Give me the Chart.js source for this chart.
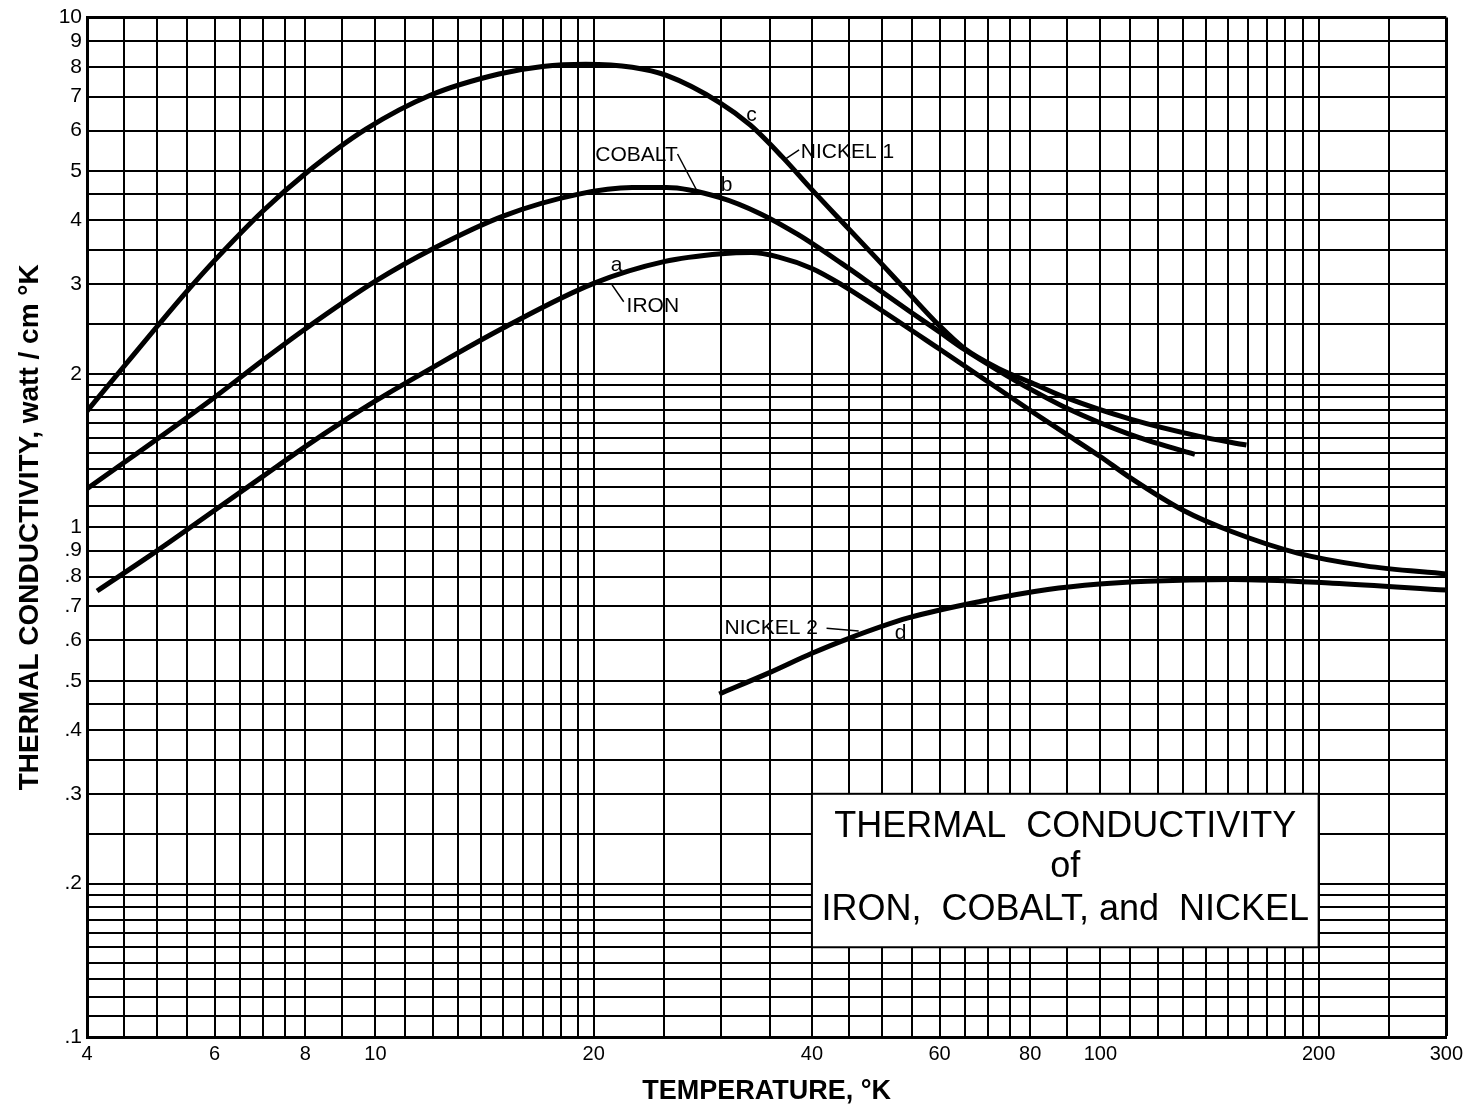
<!DOCTYPE html>
<html>
<head>
<meta charset="utf-8">
<script src="https://cdn.jsdelivr.net/npm/chart.js@4.4.1/dist/chart.umd.min.js"></script>
<style>
html,body{margin:0;padding:0;background:#fff;}
#wrap{position:relative;width:1468px;height:1117px;}
</style>
</head>
<body>
<div id="wrap"><canvas id="chart"></canvas></div>
<script>
// ---- data (temperature in K, conductivity in watt/cm K) ----
const ironT    = [4.13, 5, 6, 7, 8, 9, 10, 12, 15, 20, 25, 30, 33, 36, 40, 44, 49.4, 59.9, 72.3, 80.8, 89.3, 99.7, 110, 130, 152, 187, 232, 300];
const ironK    = [0.75, 0.90, 1.08, 1.26, 1.44, 1.61, 1.77, 2.06, 2.46, 3.01, 3.32, 3.44, 3.46, 3.39, 3.22, 2.99, 2.69, 2.24, 1.87, 1.68, 1.53, 1.38, 1.25, 1.08, 0.98, 0.89, 0.84, 0.81];

const cobaltT  = [4, 4.5, 5, 6, 7, 8, 10, 12, 15, 19, 22.6, 25.2, 29.8, 34, 38.3, 44, 49.4, 54.4, 59.9, 65, 72.3, 80.4, 89.3, 110, 135];
const cobaltK  = [1.19, 1.34, 1.49, 1.80, 2.13, 2.45, 3.04, 3.52, 4.08, 4.5, 4.64, 4.64, 4.44, 4.12, 3.75, 3.29, 2.93, 2.66, 2.42, 2.23, 2.03, 1.86, 1.72, 1.52, 1.39];

const nickel1T = [4, 4.5, 5, 5.5, 6, 7, 8, 9.7, 11.9, 14.8, 17, 19.5, 22.6, 25.2, 29.8, 32.9, 36.4, 39.7, 44.5, 49.4, 54.4, 59.9, 65, 72.3, 80.4, 89.3, 110, 136.5, 159];
const nickel1K = [1.69, 2.07, 2.48, 2.91, 3.34, 4.18, 4.94, 6.04, 7.04, 7.75, 8.02, 8.1, 7.99, 7.7, 6.82, 6.15, 5.33, 4.65, 3.91, 3.34, 2.88, 2.49, 2.24, 2.05, 1.92, 1.80, 1.63, 1.51, 1.45];

const nickel2T = [29.8, 34.9, 40, 44.9, 54.3, 68.5, 84.6, 99.7, 116, 152, 209, 300];
const nickel2K = [0.471, 0.518, 0.566, 0.605, 0.664, 0.716, 0.755, 0.774, 0.784, 0.790, 0.777, 0.753];

// ---- axes: graph-paper lines and labelled ticks ----
const xGridValues = [4, 4.5, 5, 5.5, 6, 6.5, 7, 7.5, 8, 9, 10, 11, 12, 13, 14, 15, 16, 17, 18, 19, 20, 25, 30, 35, 40, 45, 50, 55, 60, 65, 70, 75, 80, 90, 100, 110, 120, 130, 140, 150, 160, 170, 180, 190, 200, 250, 300];
const yGridValues = [0.1, 0.11, 0.12, 0.13, 0.14, 0.15, 0.16, 0.17, 0.18, 0.19, 0.2, 0.25, 0.3, 0.35, 0.4, 0.45, 0.5, 0.6, 0.7, 0.8, 0.9, 1, 1.1, 1.2, 1.3, 1.4, 1.5, 1.6, 1.7, 1.8, 1.9, 2, 2.5, 3, 3.5, 4, 4.5, 5, 6, 7, 8, 9, 10];
const xTickValues = [4, 6, 8, 10, 20, 40, 60, 80, 100, 200, 300];
const xTickLabels = ['4', '6', '8', '10', '20', '40', '60', '80', '100', '200', '300'];
const yTickValues = [0.1, 0.2, 0.3, 0.4, 0.5, 0.6, 0.7, 0.8, 0.9, 1, 2, 3, 4, 5, 6, 7, 8, 9, 10];
const yTickLabels = ['.1', '.2', '.3', '.4', '.5', '.6', '.7', '.8', '.9', '1', '2', '3', '4', '5', '6', '7', '8', '9', '10'];

const xTitle = 'TEMPERATURE, °K';
const yTitle = 'THERMAL CONDUCTIVITY, watt / cm °K';
const boxTitle = ['THERMAL  CONDUCTIVITY', 'of', 'IRON,  COBALT, and  NICKEL'];

// ---- annotation placement (in data coordinates) ----
const boxT = [40, 200];
const boxK = [0.15, 0.3];
const curveLabels = [
  {text: 'c',        t: 33.0, k: 6.43, align: 'center'},
  {text: 'NICKEL 1', t: 38.6, k: 5.44, align: 'left'},
  {text: 'COBALT',   t: 20.1, k: 5.37, align: 'left'},
  {text: 'b',        t: 30.5, k: 4.70, align: 'center'},
  {text: 'a',        t: 21.5, k: 3.27, align: 'center'},
  {text: 'IRON',     t: 22.2, k: 2.71, align: 'left'},
  {text: 'NICKEL 2', t: 30.3, k: 0.634, align: 'left'},
  {text: 'd',        t: 53.0, k: 0.62, align: 'center'}
];
const leaders = [
  [36.7, 5.27, 38.4, 5.5],
  [26.1, 5.4, 27.7, 4.6],
  [21.2, 2.99, 22.0, 2.77],
  [41.9, 0.634, 46.4, 0.626]
];

const FONT = '"Liberation Sans", Arial, sans-serif';
Chart.defaults.font.family = FONT;
Chart.defaults.color = '#000';

function pts(ts, ks) { return ts.map((t, i) => ({x: t, y: ks[i]})); }
function curve(label, ts, ks) {
  return {label, data: pts(ts, ks), borderColor: '#000', borderWidth: 5, pointRadius: 0,
          fill: false, cubicInterpolationMode: 'monotone', showLine: true};
}
function setTicks(values) { return function(scale) { scale.ticks = values.map(v => ({value: v})); }; }
function labelFor(values, labels) {
  return function(value) {
    const i = values.findIndex(v => Math.abs(v - value) / v < 1e-6);
    return i >= 0 ? labels[i] : '';
  };
}

const overlay = {
  id: 'overlay',
  beforeDatasetsDraw(chart) {
    const {ctx, scales: {x, y}} = chart;
    const L = x.getPixelForValue(boxT[0]), R = x.getPixelForValue(boxT[1]);
    const T = y.getPixelForValue(boxK[1]), B = y.getPixelForValue(boxK[0]);
    ctx.save();
    ctx.fillStyle = '#fff';
    ctx.fillRect(L, T, R - L, B - T);
    ctx.lineWidth = 2; ctx.strokeStyle = '#000';
    ctx.strokeRect(L, T, R - L, B - T);
    ctx.fillStyle = '#000';
    ctx.font = '36px ' + FONT;
    ctx.textAlign = 'center'; ctx.textBaseline = 'middle';
    const fr = [0.215, 0.48, 0.76];
    boxTitle.forEach((s, i) => ctx.fillText(s, (L + R) / 2, T + (B - T) * fr[i]));
    ctx.restore();
  },
  afterDatasetsDraw(chart) {
    const {ctx, scales: {x, y}} = chart;
    ctx.save();
    ctx.strokeStyle = '#000'; ctx.lineWidth = 1.5;
    leaders.forEach(l => {
      ctx.beginPath();
      ctx.moveTo(x.getPixelForValue(l[0]), y.getPixelForValue(l[1]));
      ctx.lineTo(x.getPixelForValue(l[2]), y.getPixelForValue(l[3]));
      ctx.stroke();
    });
    ctx.fillStyle = '#000';
    ctx.font = '21px ' + FONT;
    ctx.textBaseline = 'middle';
    curveLabels.forEach(c => {
      ctx.textAlign = c.align;
      ctx.fillText(c.text, x.getPixelForValue(c.t), y.getPixelForValue(c.k));
    });
    ctx.restore();
  }
};

new Chart(document.getElementById('chart'), {
  type: 'line',
  data: {
    datasets: [
      curve('Nickel 1 (c)', nickel1T, nickel1K),
      curve('Cobalt (b)', cobaltT, cobaltK),
      curve('Iron (a)', ironT, ironK),
      curve('Nickel 2 (d)', nickel2T, nickel2K)
    ]
  },
  options: {
    responsive: true,
    maintainAspectRatio: false,
    animation: false,
    layout: {padding: {top: 15, right: 20, left: 0, bottom: 0}},
    plugins: {legend: {display: false}, tooltip: {enabled: false}},
    scales: {
      x: {
        type: 'logarithmic', min: 4, max: 300,
        afterBuildTicks: setTicks(xGridValues),
        afterFit(scale) { scale.height = 80; },
        ticks: {autoSkip: false, maxRotation: 0, padding: 5, font: {size: 20},
                callback: labelFor(xTickValues, xTickLabels)},
        grid: {color: '#000', drawTicks: false,
               lineWidth: ctx => (ctx.index === xGridValues.length - 1 ? 3 : 2)},
        border: {display: true, color: '#000', width: 3},
        title: {display: true, text: xTitle, font: {size: 27, weight: 'bold'},
                padding: {top: 0, bottom: 9}}
      },
      y: {
        type: 'logarithmic', min: 0.1, max: 10,
        afterBuildTicks: setTicks(yGridValues),
        afterFit(scale) { scale.width = 87; },
        ticks: {autoSkip: false, padding: 5, font: {size: 21},
                callback: labelFor(yTickValues, yTickLabels)},
        grid: {color: '#000', drawTicks: false,
               lineWidth: ctx => (ctx.index === yGridValues.length - 1 ? 3 : 2)},
        border: {display: true, color: '#000', width: 3},
        title: {display: true, text: yTitle, font: {size: 28, weight: 'bold'},
                padding: {top: 13, bottom: 0}}
      }
    }
  },
  plugins: [overlay]
});
</script>
</body>
</html>
